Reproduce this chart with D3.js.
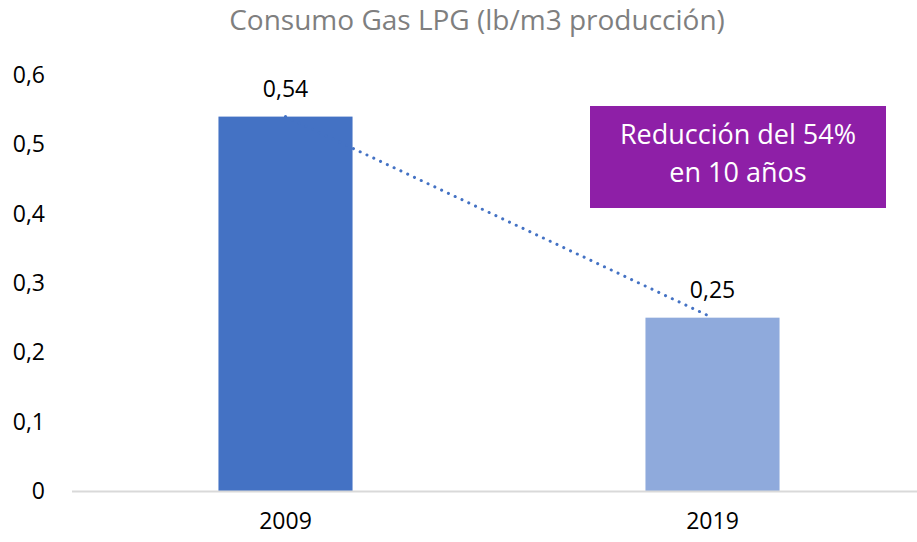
<!DOCTYPE html>
<html>
<head>
<meta charset="utf-8">
<script src="https://cdn.jsdelivr.net/npm/d3@7"></script>
<style>
  body { margin: 0; background: #fff; }
  svg { display: block; font-family: "Open Sans", "Noto Sans", sans-serif; }
</style>
</head>
<body>
<div id="chart"></div>
<script>
// --- data ---
const years = ["2009", "2019"];
const consumo = [0.54, 0.25];
const yTicks = [0, 0.1, 0.2, 0.3, 0.4, 0.5, 0.6];
const titleText = "Consumo Gas LPG (lb/m3 producción)";
const noteLines = ["Reducción del 54%", "en 10 años"];

// styles
const barColors = ["#4472C4", "#8FAADC"];

const width = 917, height = 542,
      marginLeft = 72, marginRight = -9, marginTop = 75, marginBottom = 51;

const fmt = v => v === 0 ? "0" : String(v).replace(".", ",");

const x = d3.scaleBand()
    .domain(years)
    .range([marginLeft, width - marginRight])
    .paddingInner(0.686)
    .paddingOuter(0.343);

const y = d3.scaleLinear()
    .domain([0, 0.6])
    .range([height - marginBottom, marginTop]);

const svg = d3.select("#chart").append("svg")
    .attr("width", width)
    .attr("height", height)
    .attr("viewBox", [0, 0, width, height]);

// title
svg.append("text")
    .attr("x", 477)
    .attr("y", 30)
    .attr("text-anchor", "middle")
    .attr("fill", "#7f7f7f")
    .attr("font-size", 28)
    .text(titleText);

// y axis (labels only)
const yAxis = svg.append("g")
    .attr("transform", `translate(${marginLeft}, 0)`)
    .call(d3.axisLeft(y).tickValues(yTicks).tickFormat(fmt).tickSize(0).tickPadding(27));
yAxis.select(".domain").remove();
yAxis.selectAll("text")
    .attr("font-size", 23)
    .attr("font-family", "Open Sans, sans-serif")
    .attr("fill", "#000");

// bars
const data = years.map((yr, i) => ({ year: yr, value: consumo[i], color: barColors[i] }));

svg.append("g")
  .selectAll("rect")
  .data(data)
  .join("rect")
    .attr("x", d => x(d.year))
    .attr("y", d => y(d.value))
    .attr("width", x.bandwidth())
    .attr("height", d => y(0) - y(d.value))
    .attr("fill", d => d.color);

// baseline
svg.append("line")
    .attr("x1", marginLeft)
    .attr("x2", width)
    .attr("y1", y(0) + 0.5)
    .attr("y2", y(0) + 0.5)
    .attr("stroke", "#d9d9d9")
    .attr("stroke-width", 2);

// x axis labels
const xAxis = svg.append("g")
    .attr("transform", `translate(0, ${y(0)})`)
    .call(d3.axisBottom(x).tickSize(0).tickPadding(22));
xAxis.select(".domain").remove();
xAxis.selectAll("text")
    .attr("font-size", 23)
    .attr("font-family", "Open Sans, sans-serif")
    .attr("fill", "#000");

// dotted trend line between bar tops
const line = d3.line()
    .x(d => x(d.year) + x.bandwidth() / 2)
    .y(d => y(d.value));

svg.append("path")
    .datum(data)
    .attr("d", line)
    .attr("fill", "none")
    .attr("stroke", "#4472C4")
    .attr("stroke-width", 3)
    .attr("stroke-linecap", "round")
    .attr("stroke-dasharray", "0.1 7.4");

// value labels
svg.append("g")
  .selectAll("text")
  .data(data)
  .join("text")
    .attr("x", d => x(d.year) + x.bandwidth() / 2)
    .attr("y", d => y(d.value) - 20)
    .attr("text-anchor", "middle")
    .attr("font-size", 23)
    .attr("fill", "#000")
    .text(d => fmt(d.value));

// note box
const note = svg.append("g").attr("transform", "translate(590, 106)");
note.append("rect")
    .attr("width", 296)
    .attr("height", 102)
    .attr("fill", "#8E1FA7");
note.selectAll("text")
  .data(noteLines)
  .join("text")
    .attr("x", 148)
    .attr("y", (d, i) => 38 + i * 38)
    .attr("text-anchor", "middle")
    .attr("fill", "#fff")
    .attr("font-size", 27)
    .text(d => d);
</script>
</body>
</html>
